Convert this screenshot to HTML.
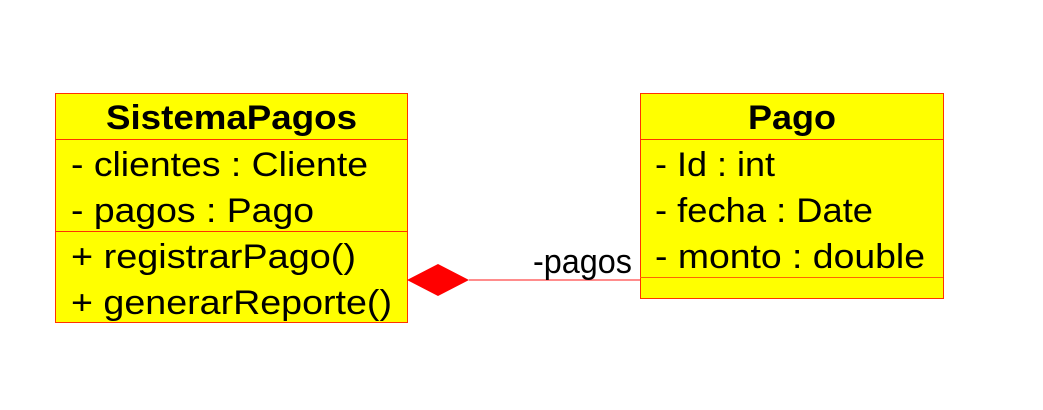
<!DOCTYPE html>
<html><head><meta charset="utf-8"><style>
body{margin:0;background:#fff;width:1043px;height:405px;overflow:hidden}
</style></head><body>
<svg width="1043" height="405" xmlns="http://www.w3.org/2000/svg" font-family="Liberation Sans, Arial, sans-serif">
<rect x="55.5" y="93.5" width="352" height="229" fill="#ffff00" stroke="#ff3300" stroke-width="1"/>
<line x1="55" y1="139.5" x2="407" y2="139.5" stroke="#ff3300"/>
<line x1="55" y1="231.5" x2="407" y2="231.5" stroke="#ff3300"/>
<text x="106" y="129" font-size="34" font-weight="bold" textLength="251" lengthAdjust="spacingAndGlyphs">SistemaPagos</text>
<text x="71" y="176" font-size="34" textLength="297" lengthAdjust="spacingAndGlyphs">- clientes : Cliente</text>
<text x="71" y="222" font-size="34" textLength="243" lengthAdjust="spacingAndGlyphs">- pagos : Pago</text>
<text x="71" y="268" font-size="34" textLength="285" lengthAdjust="spacingAndGlyphs">+ registrarPago()</text>
<text x="71" y="314" font-size="34" textLength="321" lengthAdjust="spacingAndGlyphs">+ generarReporte()</text>
<rect x="640.5" y="93.5" width="303" height="205" fill="#ffff00" stroke="#ff3300" stroke-width="1"/>
<line x1="640" y1="139.5" x2="943" y2="139.5" stroke="#ff3300"/>
<line x1="640" y1="277.5" x2="943" y2="277.5" stroke="#ff6600"/>
<text x="748" y="129" font-size="34" font-weight="bold" textLength="88" lengthAdjust="spacingAndGlyphs">Pago</text>
<text x="655" y="176" font-size="34" textLength="120" lengthAdjust="spacingAndGlyphs">- Id : int</text>
<text x="655" y="222" font-size="34" textLength="218" lengthAdjust="spacingAndGlyphs">- fecha : Date</text>
<text x="655" y="268" font-size="34" textLength="270" lengthAdjust="spacingAndGlyphs">- monto : double</text>
<line x1="469" y1="280" x2="640" y2="280" stroke="#ff6666" stroke-width="1.5"/>
<polygon points="407,280 438,264 469,280 438,296" fill="#ff0000"/>
<text x="533" y="273" font-size="34" textLength="99" lengthAdjust="spacingAndGlyphs">-pagos</text>
</svg>
</body></html>
